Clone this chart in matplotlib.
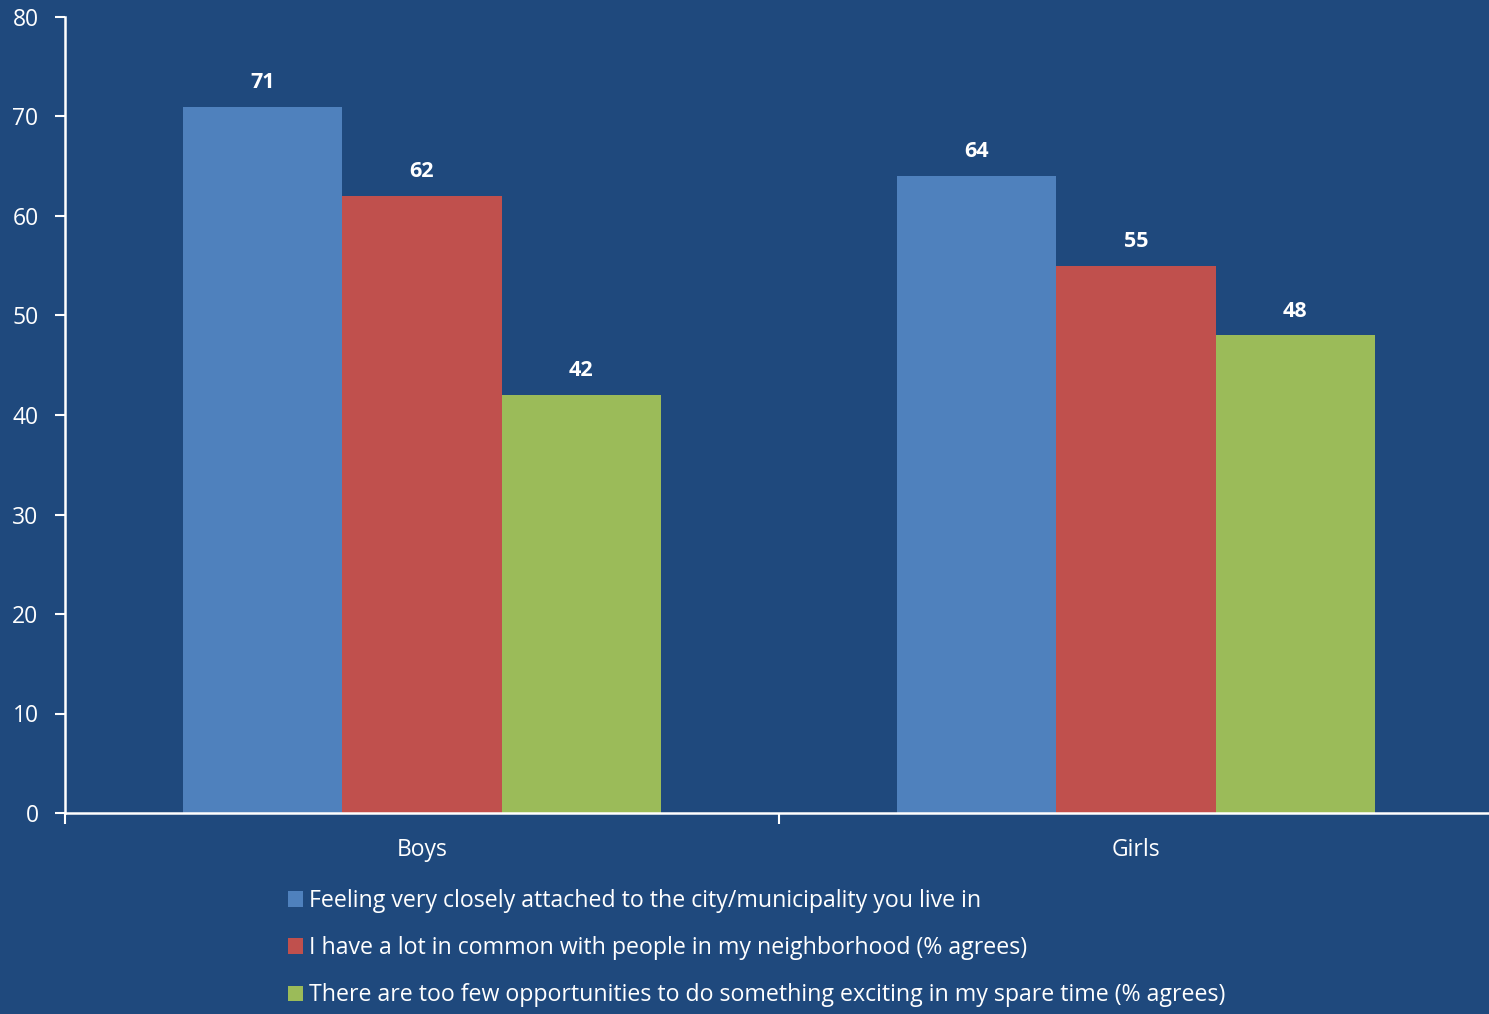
import numpy as np
import matplotlib
matplotlib.use("Agg")
import matplotlib.pyplot as plt

# ---- data ----
groups = ["Boys", "Girls"]
series_names = [
    "Feeling very closely attached to the city/municipality you live in",
    "I have a lot in common with people in my neighborhood (% agrees)",
    "There are too few opportunities to do something exciting in my spare time (% agrees)",
]
attached = [71, 64]
in_common = [62, 55]
few_opportunities = [42, 48]

colors = ["#4F81BD", "#C0504D", "#9BBB59"]
bg = "#1F497D"

plt.rcParams["font.family"] = ["Open Sans", "DejaVu Sans"]

fig = plt.figure(figsize=(14.89, 10.14), dpi=100, facecolor=bg)
# axis runs slightly past the right edge of the figure, as in the source
ax = fig.add_axes([65 / 1489, 201 / 1014, 1428 / 1489, 796 / 1014])
ax.set_facecolor(bg)

x = np.arange(len(groups))
width = 0.2227
for i, (vals, c, name) in enumerate(zip([attached, in_common, few_opportunities], colors, series_names)):
    bars = ax.bar(x + (i - 1) * width, vals, width, color=c, label=name, zorder=2)
    for b, v in zip(bars, vals):
        ax.text(b.get_x() + b.get_width() / 2, v + 2.45, str(v), ha="center", va="center",
                color="white", fontsize=15.5, fontweight="bold")

ax.set_xlim(-0.5, 1.5)
ax.set_ylim(0, 80)
ax.set_yticks(range(0, 81, 10))

# category labels on major ticks, tick marks at group boundaries
ax.set_xticks(x)
ax.set_xticklabels(groups)
ax.set_xticks([-0.5, 0.5, 1.5], minor=True)
ax.tick_params(axis="x", which="major", length=0, pad=18, labelsize=16.5, colors="white")
ax.tick_params(axis="x", which="minor", length=8, width=1.5, color="white")
ax.tick_params(axis="y", length=7, width=1.5, color="white", labelcolor="white", labelsize=16.5, pad=12)

for s in ["top", "right"]:
    ax.spines[s].set_visible(False)
for s in ["left", "bottom"]:
    ax.spines[s].set_color("white")
    ax.spines[s].set_linewidth(1.8)

fig.legend(loc="upper left", bbox_to_anchor=(288 / 1489, 1 - 889 / 1014), frameon=False,
           fontsize=16.7, labelcolor="white", handlelength=0.65, handleheight=0.65,
           handletextpad=0.26, labelspacing=1.0, borderaxespad=0, borderpad=0)

fig.savefig("out.png", dpi=100, facecolor=bg)
